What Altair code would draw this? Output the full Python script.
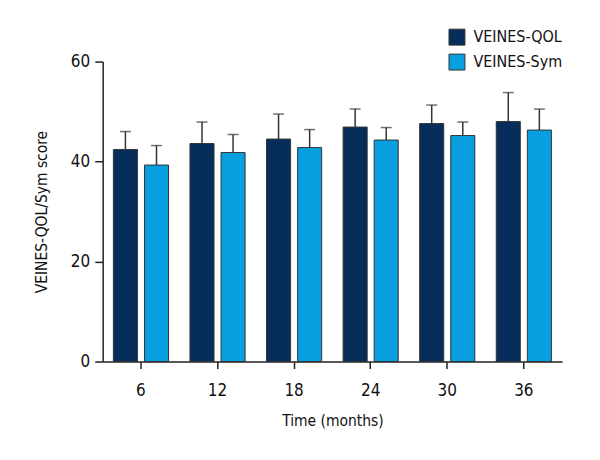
import altair as alt
import pandas as pd

months = ["6", "12", "18", "24", "30", "36"]
series = ["VEINES-QOL", "VEINES-Sym"]
qol_mean = [42.4, 43.6, 44.5, 46.9, 47.6, 48.0]
qol_upper = [46.0, 47.9, 49.5, 50.5, 51.3, 53.8]
sym_mean = [39.3, 41.8, 42.8, 44.3, 45.2, 46.3]
sym_upper = [43.2, 45.4, 46.4, 46.8, 47.9, 50.5]

rows = []
for i, m in enumerate(months):
    rows.append({"month": m, "series": series[0], "mean": qol_mean[i], "upper": qol_upper[i]})
    rows.append({"month": m, "series": series[1], "mean": sym_mean[i], "upper": sym_upper[i]})
df = pd.DataFrame(rows)

FONT = "DejaVu Sans Condensed, Roboto, sans-serif"
colors = ["#072e5a", "#079fe0"]

x = alt.X("month:N", sort=months, title="Time (months)",
          scale=alt.Scale(paddingInner=0.28, paddingOuter=0.14),
          axis=alt.Axis(labelAngle=0, tickSize=7, labelPadding=14, titlePadding=15,
                        labelFontSize=17,
                        domainColor="#222", tickColor="#222", domainWidth=1.5, tickWidth=1.5))
xo = alt.XOffset("series:N", sort=series, scale=alt.Scale(paddingInner=0.226))
y = alt.Y("mean:Q", title="VEINES-QOL/Sym score",
          scale=alt.Scale(domain=[0, 60], nice=False),
          axis=alt.Axis(values=[0, 20, 40, 60], tickSize=8, labelPadding=5, titlePadding=21,
                        labelFontSize=17,
                        grid=False, domainColor="#222", tickColor="#222", domainWidth=1.5, tickWidth=1.5))

base = alt.Chart(df)

rules = base.mark_rule(color="#333", strokeWidth=1.5).encode(
    x=x, xOffset=xo, y=alt.Y("mean:Q"), y2="upper:Q")
caps = base.mark_tick(color="#333", thickness=1.5, size=11, orient="horizontal").encode(
    x=x, xOffset=xo, y=alt.Y("upper:Q"))
bars = base.mark_bar(stroke="#333", strokeWidth=1).encode(
    x=x, xOffset=xo, y=y,
    color=alt.Color("series:N", sort=series,
                    scale=alt.Scale(domain=series, range=colors),
                    legend=alt.Legend(title=None, orient="none", legendX=347, legendY=-33,
                                      symbolType="square", symbolSize=256, symbolStrokeColor="#333",
                                      symbolStrokeWidth=1, labelFontSize=16, labelFont=FONT,
                                      labelColor="#111", rowPadding=4, labelOffset=8, padding=0)))

chart = alt.layer(rules, caps, bars).properties(
    width=461, height=301,
    autosize=alt.AutoSizeParams(type="none"),
    padding={"left": 95, "top": 53, "right": 30, "bottom": 85},
).configure_axis(
    labelFont=FONT, titleFont=FONT, titleFontSize=15.5,
    labelColor="#111", titleColor="#111", titleFontWeight="normal"
).configure_view(stroke=None)

chart.save("out.html", embed_options={"renderer": "svg", "actions": False})
